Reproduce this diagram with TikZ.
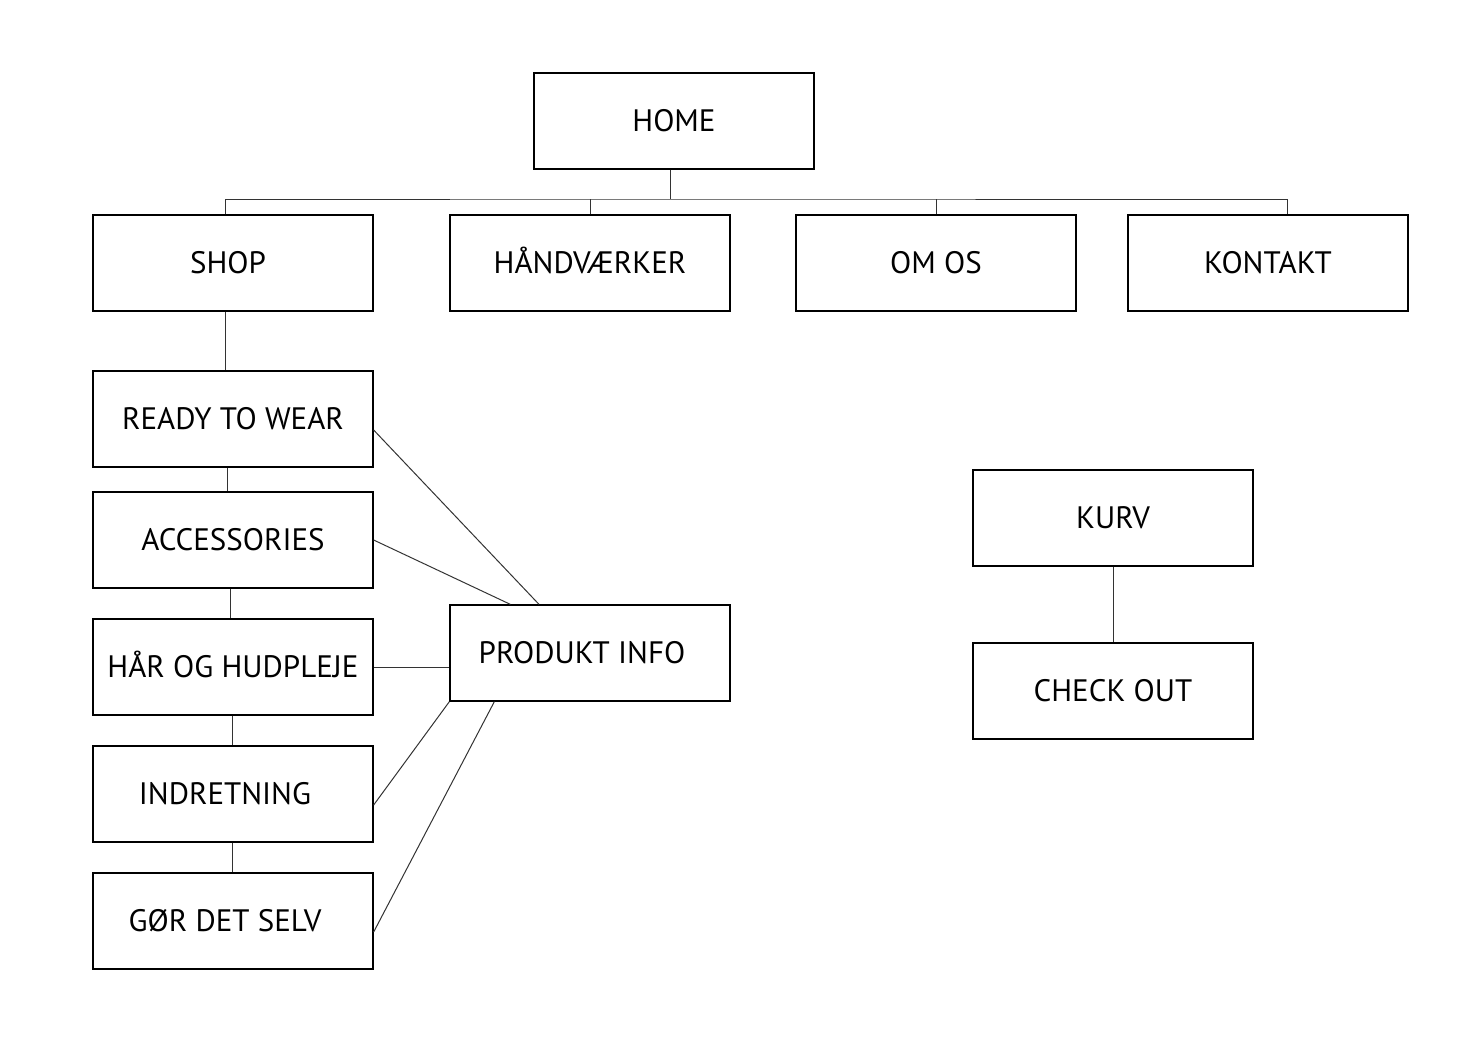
\documentclass[tikz,border=0pt]{standalone}
\usepackage{fontspec}
\setmainfont{PT Sans}
\usepackage{tikz}
\tikzstyle{page} = [draw=black, line width=1.3pt, rectangle, minimum width=280pt,
    minimum height=96pt, inner sep=0pt, text height=21.5pt, text depth=0pt,
    font=\fontsize{31}{37}\selectfont]
\tikzstyle{link} =[draw=black!80, line width=1pt]

\begin{document}
\begin{tikzpicture}[x=1pt, y=-1pt]
                \useasboundingbox (0,0) rectangle (1472,1063);
                % top level
                \node [page] (home) at (674,121) {HOME};
                \node [page] (shop) at (233,263) {SHOP\kern10pt};
                \node [page] (hand) at (590,263) {HÅNDVÆRKER};
                \node [page] (omos) at (936,263) {OM OS};
                \node [page] (kontakt) at (1268,263) {KONTAKT};
                % shop
                \node [page] (ready) at (233,419) {READY TO WEAR};
                \node [page] (acc) at (233,540) {ACCESSORIES};
                \node [page] (haar) at (233,667) {HÅR OG HUDPLEJE};
                \node [page] (indr) at (233,794) {INDRETNING\kern16pt};
                \node [page] (gor) at (233,921) {GØR DET SELV\kern16pt};
                \node [page] (info) at (590,653) {PRODUKT INFO\kern16pt};
                % kurv
                \node [page] (kurv) at (1113,518) {KURV};
                \node [page] (check) at (1113,691) {CHECK OUT};

                \coordinate (bus) at (670,199);
                \draw [link] ([xshift=-4pt]home.south) -- (bus);
                \draw [link] ([xshift=-8pt]shop.north) |- (bus) -| ([xshift=19pt]kontakt.north);
                \draw [link] (hand.north) -- (hand.north |- bus);
                \draw [link] (omos.north) -- (omos.north |- bus);

                \draw [link] ([xshift=-8pt]shop.south) -- ([xshift=-8pt]ready.north);
                \draw [link] ([xshift=-6pt]ready.south) -- ([xshift=-6pt]acc.north);
                \draw [link] ([xshift=-3pt]acc.south) -- ([xshift=-3pt]haar.north);
                \draw [link] ([xshift=-1pt]haar.south) -- ([xshift=-1pt]indr.north);
                \draw [link] ([xshift=-1pt]indr.south) -- ([xshift=-1pt]gor.north);

                \draw [link] ([yshift=-11pt]ready.east) -- ([xshift=-51pt]info.north);
                \draw [link] (acc.east) -- ([xshift=61pt]info.north west);
                \draw [link] (haar.east) -- ([yshift=-14pt]info.west);
                \draw [link] ([yshift=-11pt]indr.east) -- (info.south west);
                \draw [link] ([yshift=-11pt]gor.east) -- ([xshift=45pt]info.south west);

                \draw [link] (kurv) -- (check);
            \end{tikzpicture}
\end{document}
